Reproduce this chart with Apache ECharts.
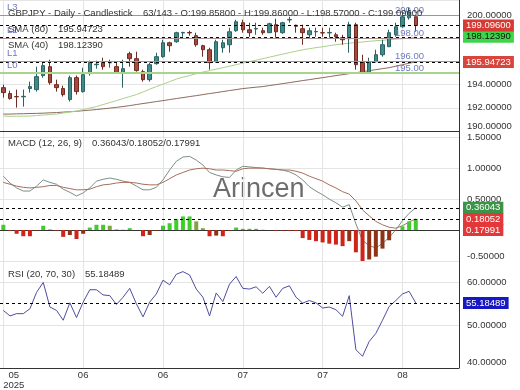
<!DOCTYPE html>
<html><head><meta charset="utf-8">
<script src="https://cdn.jsdelivr.net/npm/echarts@6/dist/echarts.min.js"></script>
<style>html,body{margin:0;padding:0;background:#fff}#c{width:520px;height:390px}</style>
</head><body><div id="c"></div>
<script>
// ---------- data ----------
const open  = [193.74,193.23,192.97,192.95,193.66,193.57,194.78,195.55,194.00,193.66,192.71,194.60,193.40,194.95,195.72,195.90,195.88,195.55,195.03,196.67,196.24,195.12,194.43,195.81,196.41,197.61,197.70,198.46,198.50,198.22,197.36,197.01,195.98,197.18,197.44,198.65,199.34,198.73,198.80,198.65,198.48,199.17,198.48,199.58,199.12,198.82,198.30,198.56,198.48,198.46,198.30,198.05,197.96,199.17,195.90,195.03,195.98,196.58,197.27,198.30,198.99,199.77,199.858];
const close = [193.31,192.80,192.95,192.99,193.83,194.69,195.64,194.17,193.74,193.14,194.60,193.40,194.86,195.90,195.76,195.55,195.92,195.03,195.38,196.24,195.21,194.43,195.72,196.41,197.61,197.36,198.48,198.50,198.46,197.44,197.01,195.90,197.70,197.61,198.56,199.42,198.73,198.48,198.84,198.48,199.25,198.56,199.34,199.62,199.03,198.48,198.65,198.58,198.46,198.50,198.13,197.87,199.17,195.72,195.03,195.98,196.58,197.44,198.48,198.99,199.85,200.28,199.096];
const low   = [192.88,192.71,192.02,192.10,193.31,193.40,194.60,194.00,193.40,192.97,192.54,193.14,193.31,194.78,195.38,195.29,195.46,194.95,193.74,195.55,195.12,194.26,194.26,195.72,196.32,196.84,197.61,198.13,198.22,197.27,196.41,195.29,195.90,196.75,196.75,198.56,198.48,198.13,198.30,198.30,198.46,198.05,198.39,199.34,198.48,197.44,197.96,198.13,198.13,198.05,197.70,197.44,196.75,195.29,194.95,194.95,195.90,196.41,197.27,198.13,198.91,199.60,198.57];
const high  = [194.00,193.48,193.57,193.57,194.26,195.55,195.89,196.15,194.43,193.91,194.78,194.78,195.46,196.07,196.07,196.32,196.15,195.90,196.15,196.84,196.84,195.29,195.90,196.75,197.87,197.70,198.56,198.56,198.65,198.48,197.44,197.18,197.87,197.87,198.91,199.60,199.60,199.34,199.34,198.91,199.34,199.68,199.42,199.85,199.17,199.17,198.91,198.91,198.91,198.91,198.48,198.30,199.42,199.34,196.58,196.32,197.01,197.87,198.73,199.34,200.20,200.63,199.86];
const sma40 = [191.29,191.27,191.27,191.28,191.29,191.33,191.38,191.42,191.46,191.55,191.64,191.72,191.85,191.98,192.11,192.28,192.45,192.62,192.80,192.97,193.14,193.36,193.61,193.83,194.04,194.26,194.48,194.65,194.78,194.95,195.08,195.21,195.34,195.46,195.59,195.72,195.85,195.98,196.11,196.24,196.37,196.50,196.63,196.76,196.88,197.01,197.10,197.19,197.27,197.36,197.44,197.51,197.57,197.63,197.68,197.74,197.79,197.83,197.87,197.92,197.96,198.00,198.1239];
const sma80 = [191.46,191.46,191.48,191.49,191.51,191.52,191.54,191.57,191.59,191.63,191.66,191.70,191.75,191.80,191.85,191.91,191.97,192.04,192.11,192.19,192.28,192.37,192.45,192.54,192.62,192.71,192.80,192.88,192.97,193.05,193.14,193.23,193.31,193.40,193.49,193.57,193.66,193.72,193.78,193.83,193.92,194.00,194.09,194.17,194.26,194.35,194.43,194.52,194.60,194.69,194.78,194.86,194.95,195.03,195.12,195.21,195.29,195.38,195.46,195.59,195.72,195.85,195.94723];
const macd  = [0.87,0.76,0.68,0.63,0.63,0.71,0.81,0.77,0.74,0.66,0.61,0.55,0.60,0.68,0.79,0.82,0.84,0.82,0.79,0.77,0.71,0.65,0.65,0.69,0.81,0.97,1.11,1.18,1.19,1.13,1.05,0.93,0.89,0.86,0.85,0.97,1.03,1.02,1.01,1.00,0.99,0.98,0.97,0.94,0.89,0.81,0.70,0.63,0.57,0.50,0.44,0.37,0.41,0.10,-0.17,-0.25,-0.29,-0.215,-0.12,0.005,0.15,0.27,0.36043];
const signal= [0.77,0.74,0.71,0.69,0.68,0.69,0.70,0.72,0.72,0.69,0.67,0.65,0.65,0.66,0.70,0.73,0.74,0.76,0.77,0.77,0.76,0.74,0.73,0.73,0.77,0.83,0.89,0.93,0.97,0.99,1.00,0.99,0.97,0.97,0.96,0.95,0.99,1.00,1.00,1.00,0.99,0.98,0.97,0.97,0.95,0.92,0.87,0.83,0.79,0.73,0.68,0.62,0.58,0.47,0.325,0.23,0.14,0.085,0.045,0.03,0.07,0.13,0.18052];
const hist  = [0.085,-0.01,-0.06,-0.10,-0.10,-0.01,0.07,0.01,-0.01,-0.11,-0.08,-0.145,-0.06,0.04,0.085,0.085,0.07,0.01,0.005,0.03,0.0,-0.10,-0.08,-0.01,0.07,0.11,0.175,0.22,0.22,0.14,0.03,-0.10,-0.09,-0.10,-0.01,0.04,0.02,0.02,0.02,0.005,0.0,-0.01,-0.01,-0.01,-0.015,-0.13,-0.16,-0.18,-0.20,-0.22,-0.235,-0.26,-0.18,-0.36,-0.50,-0.475,-0.43,-0.30,-0.165,-0.01,0.06,0.14,0.17991];
const rsi   = [53.43,52.14,52.67,52.67,53.82,57.67,59.98,54.22,53.43,51.13,55.21,51.75,55.37,58.27,58.27,57.05,56.89,54.82,56.52,58.59,54.98,51.91,55.37,57.28,60.51,59.42,61.89,62.51,61.73,58.43,56.52,52.14,57.51,55.51,59.59,61.36,58.59,58.43,58.96,57.44,59.06,56.52,58.59,59.19,56.52,55.14,55.74,55.21,53.99,54.22,53.59,52.05,56.89,44.22,42.70,46.15,48.06,51.13,54.35,55.74,57.28,57.90,55.18489];
const levelVals  = [195, 196, 198, 200];
const levelNames = ['L0', 'L1', 'L2', 'L3'];
const tickIdx  = [0, 12, 24, 36, 48, 60];
const tickText = [['05', '2025'], ['06'], ['06'], ['07'], ['07'], ['08']];
const EMPTY_SLOTS = 6;
const barInfo = '63/143';

// ---------- build ----------
const nBars = open.length;
const categories = [];
for (let i = 0; i < nBars + EMPTY_SLOTS; i++) categories.push('b' + i);
const last = nBars - 1;
const FONT = '"Liberation Sans", Arial, sans-serif';
const FS = 9.5;
const candleData = open.map((o, i) => [o, close[i], low[i], high[i]]);
const histData = hist.map((v, i) => {
  const p = i > 0 ? hist[i - 1] : 0;
  let c;
  if (v >= 0) c = v >= p ? '#3fcc2c' : '#7fa63c';
  else c = v <= p ? '#cf2419' : '#8f3217';
  return { value: v, itemStyle: { color: c } };
});
const dashed = { color: '#000', width: 1, type: [3, 3] };
const hiddenLine = { color: 'rgba(0,0,0,0)', width: 0 };
function box(text, bg, fg) {
  return { show: true, position: 'end', formatter: text, backgroundColor: bg, color: fg,
           fontSize: FS, fontFamily: FONT, padding: [1, 3], lineHeight: 10, distance: 4 };
}
const levelColors = ['#a8d48c', '#a39393', '#a39393', '#a39393'];
const candleMarks = [];
levelVals.forEach((v, k) => {
  candleMarks.push({ yAxis: v, lineStyle: { color: levelColors[k], width: k === 0 ? 2 : 1, type: 'solid' },
    label: { show: true, position: 'insideStartTop', formatter: levelNames[k], color: '#6f78c2', fontSize: FS, fontFamily: FONT, distance: [7, 3] } });
  candleMarks.push({ yAxis: v, lineStyle: hiddenLine,
    label: { show: true, position: 'insideEndTop', formatter: v.toFixed(2), color: '#6f78c2', fontSize: FS, fontFamily: FONT, distance: [35, 0] } });
});
candleMarks.push({ yAxis: close[last], lineStyle: dashed, label: box(close[last].toFixed(5), '#d63a32', '#fff') });

function xAxisFor(g, showLabels) {
  return {
    type: 'category', gridIndex: g, data: categories, boundaryGap: true,
    axisLine: { show: true, lineStyle: { color: '#333', width: 1 } },
    axisTick: { show: false },
    splitLine: { show: true, alignWithLabel: true, interval: (i) => tickIdx.includes(i), lineStyle: { color: '#e4e4e4' } },
    axisLabel: showLabels ? {
      show: true, interval: (i) => tickIdx.includes(i), margin: 3, color: '#333', fontSize: FS, fontFamily: FONT, lineHeight: 9.5,
      alignMinLabel: 'left',
      rich: { a: { width: 21, align: 'center', fontSize: FS, fontFamily: FONT, color: '#333', lineHeight: 9.5 } },
      formatter: (val, idx) => {
        const k = tickIdx.indexOf(idx);
        if (k < 0) return '';
        return k === 0 ? tickText[k].map(s => '{a|' + s + '}').join('\n') : tickText[k].join('\n');
      }
    } : { show: false }
  };
}
function yAxisFor(g, min, max, interval) {
  return {
    type: 'value', gridIndex: g, position: 'right', min, max, interval, scale: true,
    axisLine: { show: true, lineStyle: { color: '#333', width: 1 } },
    axisTick: { show: false },
    splitLine: { show: true, lineStyle: { color: '#e4e4e4' } },
    axisLabel: { show: true, margin: 8, color: '#333', fontSize: FS, fontFamily: FONT, showMaxLabel: false, showMinLabel: true,
      verticalAlignMinLabel: 'bottom', formatter: (v) => v.toFixed(5) }
  };
}
function txt(x, y, s, extra) {
  return { type: 'text', x, y, z: 100, silent: true,
    style: Object.assign({ text: s, fill: '#333', font: FS + 'px ' + FONT, verticalAlign: 'middle', align: 'left' }, extra || {}) };
}

const option = {
  animation: false,
  backgroundColor: '#fff',
  textStyle: { fontFamily: FONT },
  grid: [
    { left: 0, top: 0, width: 459, height: 131 },
    { left: 0, top: 131, width: 459, height: 130 },
    { left: 0, top: 261, width: 459, height: 108 }
  ],
  xAxis: [xAxisFor(0, false), xAxisFor(1, false), xAxisFor(2, true)],
  yAxis: [yAxisFor(0, 190, 201.3, 2), yAxisFor(1, -0.5, 1.6, 0.5), yAxisFor(2, 40, 65, 10)],
  graphic: [
    { type: 'text', x: 213, y: 190, z: 0, silent: true,
      style: { text: 'Arincen', fill: '#6d6d6d', font: '27px ' + FONT, verticalAlign: 'middle', align: 'left' } },
    txt(8, 13, 'GBPJPY - Daily - Candlestick'),
    txt(143, 13, barInfo + ' - O:' + open[last].toFixed(5) + ' - H:' + high[last].toFixed(5) + ' - L:' + low[last].toFixed(5) + ' - C:' + close[last].toFixed(5)),
    txt(8, 29, 'SMA (80)'), txt(58, 29, sma80[last].toFixed(5)),
    txt(8, 45, 'SMA (40)'), txt(58, 45, sma40[last].toFixed(5)),
    txt(8, 143, 'MACD (12, 26, 9)'),
    txt(92, 143, macd[last].toFixed(5) + '/' + signal[last].toFixed(5) + '/' + hist[last].toFixed(5)),
    txt(8, 274, 'RSI (20, 70, 30)'), txt(85, 274, rsi[last].toFixed(5))
  ],
  series: [
    { type: 'line', name: 'SMA80', xAxisIndex: 0, yAxisIndex: 0, data: sma80, showSymbol: false, z: 2,
      lineStyle: { color: '#8d6a5e', width: 1 },
      markLine: { symbol: ['none', 'none'], silent: true, animation: false,
        data: [{ yAxis: sma80[last], lineStyle: dashed, label: box(sma80[last].toFixed(5), '#d8453c', '#fff') }] } },
    { type: 'line', name: 'SMA40', xAxisIndex: 0, yAxisIndex: 0, data: sma40, showSymbol: false, z: 2,
      lineStyle: { color: '#acd08a', width: 1 },
      markLine: { symbol: ['none', 'none'], silent: true, animation: false,
        data: [{ yAxis: sma40[last], lineStyle: dashed, label: box(sma40[last].toFixed(5), '#3fd449', '#111') }] } },
    { type: 'candlestick', name: 'GBPJPY', xAxisIndex: 0, yAxisIndex: 0, data: candleData, barWidth: 4, z: 3,
      itemStyle: { color: '#3e8b8b', color0: '#a8493d', borderColor: '#2c6262', borderColor0: '#6f2b22', borderWidth: 1 },
      markLine: { symbol: ['none', 'none'], silent: true, animation: false, data: candleMarks } },
    { type: 'line', name: 'MACD', xAxisIndex: 1, yAxisIndex: 1, data: macd, showSymbol: false, z: 2,
      lineStyle: { color: '#7d8f88', width: 1 },
      markLine: { symbol: ['none', 'none'], silent: true, animation: false,
        data: [{ yAxis: macd[last], lineStyle: dashed, label: box(macd[last].toFixed(5), '#3b9447', '#fff') }] } },
    { type: 'line', name: 'Signal', xAxisIndex: 1, yAxisIndex: 1, data: signal, showSymbol: false, z: 2,
      lineStyle: { color: '#a86e5e', width: 1 },
      markLine: { symbol: ['none', 'none'], silent: true, animation: false,
        data: [{ yAxis: signal[last], lineStyle: dashed, label: box(signal[last].toFixed(5), '#e2383a', '#fff') }] } },
    { type: 'bar', name: 'Hist', xAxisIndex: 1, yAxisIndex: 1, data: histData, barWidth: 4, z: 3,
      markLine: { symbol: ['none', 'none'], silent: true, animation: false,
        data: [{ yAxis: 0, lineStyle: hiddenLine, label: box(hist[last].toFixed(5), '#e2383a', '#fff') }] } },
    { type: 'line', name: 'RSI', xAxisIndex: 2, yAxisIndex: 2, data: rsi, showSymbol: false, z: 2,
      lineStyle: { color: '#4e4e9e', width: 1 },
      markLine: { symbol: ['none', 'none'], silent: true, animation: false,
        data: [{ yAxis: rsi[last], lineStyle: dashed, label: box(rsi[last].toFixed(5), '#1717c4', '#fff') }] } }
  ]
};
const chart = echarts.init(document.getElementById('c'), null, { renderer: 'canvas' });
chart.setOption(option);
</script>
</body></html>
